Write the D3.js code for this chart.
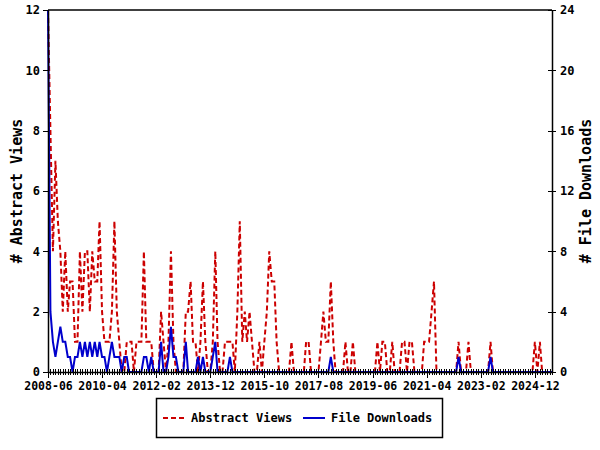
<!DOCTYPE html>
<html>
<head>
<meta charset="utf-8">
<script src="https://cdn.jsdelivr.net/npm/d3@7"></script>
<style>
  body { margin: 0; background: #fff; }
  text { font-family: "DejaVu Sans Mono", monospace; font-weight: bold; }
</style>
</head>
<body>
<svg width="600" height="450"></svg>
<script>
// monthly counts, first month 2008-06
const startMonth = "2008-06";
const views = [
  12,8,4,7,5,4,2,4,2,3,
  3,1,1,4,2,4,4,2,4,3,
  3,5,2,1,1,1,2,5,2,1,
  0,0,1,1,1,0,1,1,1,4,
  1,1,1,0,0,0,2,1,0,1,
  4,1,0,0,0,0,2,2,3,1,
  1,0,1,3,1,0,0,1,4,1,
  0,0,1,1,1,1,0,2,5,1,
  2,1,2,1,0,0,1,0,1,2,
  4,3,3,1,0,0,0,0,0,1,
  0,0,0,0,0,1,1,0,0,0,
  0,1,2,1,1,3,1,0,0,0,
  0,1,0,0,1,0,0,0,0,0,
  0,0,0,0,1,0,1,1,0,0,
  1,0,0,0,1,1,0,1,1,0,
  0,0,0,1,1,1,2,3,0,0,
  0,0,0,0,0,0,0,1,0,0,
  0,1,0,0,0,0,0,0,0,0,
  1,0,0,0,0,0,0,0,0,0,
  0,0,0,0,0,0,0,0,1,0,
  1,0,0,0,0,0
];
const downloads = [
  24,4,2,1,2,3,2,2,1,1,
  0,1,1,2,1,2,1,2,1,2,
  1,2,1,1,0,1,2,1,1,1,
  0,1,1,0,0,0,0,0,0,1,
  1,0,1,0,0,0,2,0,0,1,
  3,1,1,0,0,0,2,0,0,0,
  0,1,0,1,0,0,0,1,2,0,
  0,0,0,0,1,0,0,0,0,0,
  0,0,0,0,0,0,0,0,0,0,
  0,0,0,0,0,0,0,0,0,0,
  0,0,0,0,0,0,0,0,0,0,
  0,0,0,0,0,1,0,0,0,0,
  0,0,0,0,0,0,0,0,0,0,
  0,0,0,0,0,0,0,0,0,0,
  0,0,0,0,0,0,0,0,0,0,
  0,0,0,0,0,0,0,0,0,0,
  0,0,0,0,0,0,0,1,0,0,
  0,0,0,0,0,0,0,0,0,0,
  1,0,0,0,0,0,0,0,0,0,
  0,0,0,0,0,0,0,0,0,0,
  0,0,0,0,0,0
];
const tickLabels = ["2008-06","2010-04","2012-02","2013-12","2015-10",
                    "2017-08","2019-06","2021-04","2023-02","2024-12"];
const leftTicks = [0,2,4,6,8,10,12];
const rightTicks = [0,4,8,12,16,20,24];
const seriesNames = ["Abstract Views", "File Downloads"];

let svg = d3.select("svg");
let parse = d3.timeParse("%Y-%m");
let t0 = parse(startMonth);
let months = d3.timeMonth.range(t0, d3.timeMonth.offset(t0, views.length));

let x = d3.scaleTime()
  .domain([months[0], months[months.length - 1]])
  .range([48, 552]);
let yL = d3.scaleLinear().domain([0, 12]).range([372, 10]);
let yR = d3.scaleLinear().domain([0, 24]).range([372, 10]);

svg.append("rect").attr("width", 600).attr("height", 450).attr("fill", "#fff");

// lines
let lineL = d3.line().x((d, i) => x(months[i])).y(d => yL(d));
let lineR = d3.line().x((d, i) => x(months[i])).y(d => yR(d));

svg.append("path")
  .datum(views)
  .attr("d", lineL)
  .attr("fill", "none")
  .attr("stroke", "#cc0000")
  .attr("stroke-width", 2)
  .attr("stroke-dasharray", "5,3");

svg.append("path")
  .datum(downloads)
  .attr("d", lineR)
  .attr("fill", "none")
  .attr("stroke", "#0000cc")
  .attr("stroke-width", 2);

// top frame line
svg.append("line")
  .attr("x1", 48).attr("x2", 552).attr("y1", 10).attr("y2", 10)
  .attr("stroke", "#000").attr("stroke-width", 1.5);

// minor month ticks
let minor = svg.append("g")
  .attr("transform", "translate(0,369)")
  .call(d3.axisBottom(x).tickValues(months).tickSize(6).tickSizeOuter(0).tickFormat(""));
minor.select(".domain").remove();

// x axis with labels
let gx = svg.append("g")
  .attr("transform", "translate(0,372)")
  .call(d3.axisBottom(x)
    .tickValues(tickLabels.map(parse))
    .tickSize(6).tickSizeOuter(0).tickPadding(4)
    .tickFormat(d3.timeFormat("%Y-%m")));
gx.selectAll("text").attr("font-size", 11.5).attr("fill", "#000");
gx.selectAll(".tick line").attr("transform", "translate(0,-3)").attr("y2", 9);

let gl = svg.append("g")
  .attr("transform", "translate(48,0)")
  .call(d3.axisLeft(yL).tickValues(leftTicks).tickSize(5).tickSizeOuter(0).tickPadding(3));
gl.selectAll("text").attr("font-size", 12).attr("fill", "#000");

let gr = svg.append("g")
  .attr("transform", "translate(552,0)")
  .call(d3.axisRight(yR).tickValues(rightTicks).tickSize(4).tickSizeOuter(0).tickPadding(4));
gr.selectAll("text").attr("font-size", 12).attr("fill", "#000");
gr.selectAll(".tick line").attr("x1", -4);

svg.selectAll(".domain").attr("stroke", "#000").attr("stroke-width", 1.5);
svg.selectAll(".tick line").attr("stroke", "#000").attr("shape-rendering", "crispEdges");

// axis titles
svg.append("text")
  .attr("transform", "translate(22,191) rotate(-90)")
  .attr("text-anchor", "middle")
  .attr("font-size", 15)
  .text("# Abstract Views");

svg.append("text")
  .attr("transform", "translate(591,191) rotate(-90)")
  .attr("text-anchor", "middle")
  .attr("font-size", 15)
  .text("# File Downloads");

// legend
let lg = svg.append("g");
lg.append("rect")
  .attr("x", 156.5).attr("y", 398.5).attr("width", 286).attr("height", 39)
  .attr("fill", "#fff").attr("stroke", "#000").attr("stroke-width", 1.5);
lg.append("line")
  .attr("x1", 163).attr("x2", 184).attr("y1", 418).attr("y2", 418)
  .attr("stroke", "#cc0000").attr("stroke-width", 2).attr("stroke-dasharray", "5,3");
lg.append("text").attr("x", 191).attr("y", 422).attr("font-size", 12).text(seriesNames[0]);
lg.append("line")
  .attr("x1", 303).attr("x2", 325).attr("y1", 418).attr("y2", 418)
  .attr("stroke", "#0000cc").attr("stroke-width", 2);
lg.append("text").attr("x", 331).attr("y", 422).attr("font-size", 12).text(seriesNames[1]);
</script>
</body>
</html>
